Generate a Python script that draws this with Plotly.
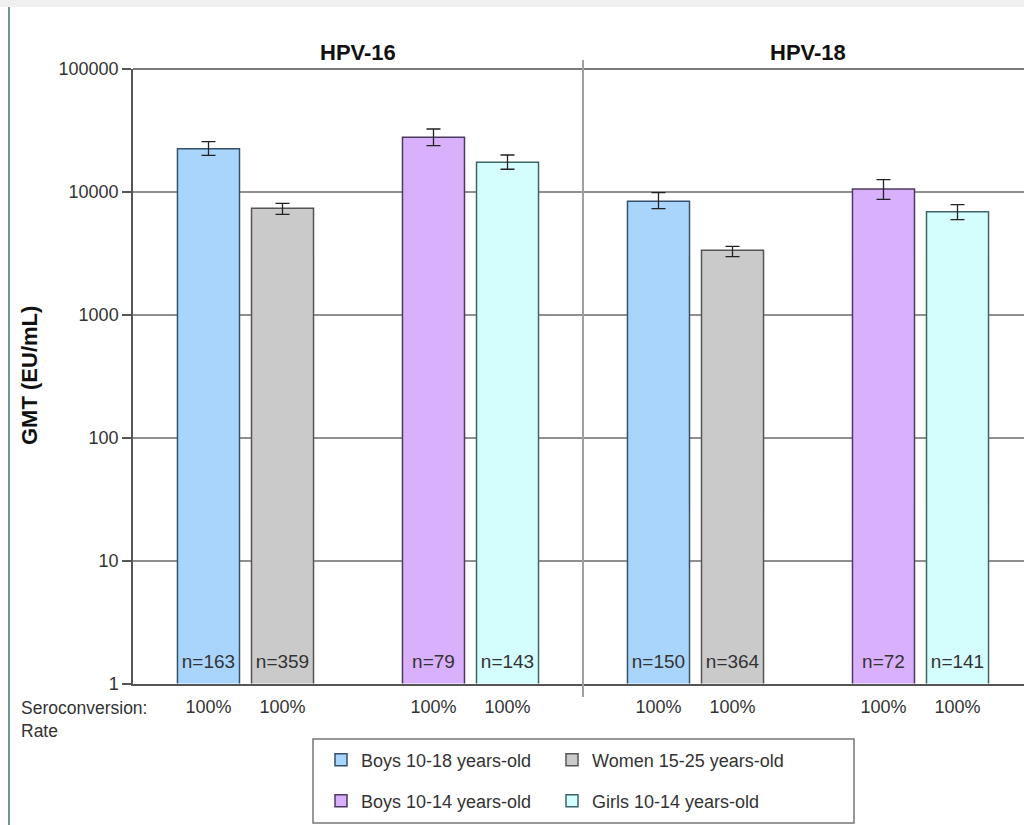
import numpy as np
import plotly.graph_objects as go

# ---------------- data ----------------
categories = ["HPV-16 (study A)", "HPV-16 (study B)", "HPV-18 (study A)", "HPV-18 (study B)"]
panel_titles = ["HPV-16", "HPV-18"]

# Boys 10-18 and Women 15-25 belong to study A; Boys 10-14 and Girls 10-14 to study B
boys1018_gmt = [22470, 8385]
boys1018_low = [19860, 7300]
boys1018_high = [25620, 9850]
boys1018_n = [163, 150]
boys1018_sero = [100, 100]

women_gmt = [7357, 3348]
women_low = [6573, 2970]
women_high = [8077, 3609]
women_n = [359, 364]
women_sero = [100, 100]

boys1014_gmt = [27820, 10560]
boys1014_low = [23760, 8706]
boys1014_high = [32500, 12570]
boys1014_n = [79, 72]
boys1014_sero = [100, 100]

girls_gmt = [17410, 6901]
girls_low = [15280, 5940]
girls_high = [19960, 7867]
girls_n = [143, 141]
girls_sero = [100, 100]

y_tickvals = [1, 10, 100, 1000, 10000, 100000]
y_ticktext = ["1", "10", "100", "1000", "10000", "100000"]

# ---------------- style / layout constants ----------------
FONT = "Liberation Sans, Arial, sans-serif"
TXT = "#333333"
N_LABEL_Y = 1.47      # height (data units) of the n= labels inside the bars
RATE_LABEL_Y = 0.34   # position in the label strip below the axis

W, H = 1024, 825
ML, MR, MT, MB = 133, 0, 69, 105
pw, ph = W - ML - MR, H - MT - MB
AXIS_BOTTOM_PX = 683.5
main_bottom = (H - MB - AXIS_BOTTOM_PX) / ph
strip_top = 0.05


def px_x(p):
    return (p - ML) / pw


def px_y(p):
    return (H - MB - p) / ph


series = [
    dict(name="Boys 10-18 years-old", x=[categories[0], categories[2]], gmt=boys1018_gmt,
         low=boys1018_low, high=boys1018_high, n=boys1018_n, sero=boys1018_sero,
         fill="#a9d5fd", line="#34506a", og="L", legend="legend"),
    dict(name="Women 15-25 years-old", x=[categories[0], categories[2]], gmt=women_gmt,
         low=women_low, high=women_high, n=women_n, sero=women_sero,
         fill="#cacaca", line="#555555", og="R", legend="legend"),
    dict(name="Boys 10-14 years-old", x=[categories[1], categories[3]], gmt=boys1014_gmt,
         low=boys1014_low, high=boys1014_high, n=boys1014_n, sero=boys1014_sero,
         fill="#d8b0fc", line="#4d3a60", og="L", legend="legend2"),
    dict(name="Girls 10-14 years-old", x=[categories[1], categories[3]], gmt=girls_gmt,
         low=girls_low, high=girls_high, n=girls_n, sero=girls_sero,
         fill="#d4fdfd", line="#3f6464", og="R", legend="legend2"),
]

fig = go.Figure()

for s in series:
    g = np.array(s["gmt"], dtype=float)
    lo = np.array(s["low"], dtype=float)
    hi = np.array(s["high"], dtype=float)
    fig.add_trace(go.Bar(
        x=s["x"], y=g, name=s["name"], offsetgroup=s["og"], legend=s["legend"],
        marker=dict(color=s["fill"], line=dict(color=s["line"], width=1.5)),
        error_y=dict(type="data", symmetric=False, array=hi - g, arrayminus=g - lo,
                     color="#222222", thickness=1.3, width=7),
        hoverinfo="x+y",
    ))

# n= labels inside the bars (main axes)
for s in series:
    fig.add_trace(go.Scatter(
        x=s["x"], y=[N_LABEL_Y] * len(s["x"]), text=[f"n={v}" for v in s["n"]],
        mode="text", offsetgroup=s["og"],
        textfont=dict(family=FONT, size=19, color=TXT),
        textposition="middle center", showlegend=False, hoverinfo="skip",
    ))

# seroconversion rate row (strip axes below the main plot)
for s in series:
    fig.add_trace(go.Scatter(
        x=s["x"], y=[RATE_LABEL_Y] * len(s["x"]), text=[f"{v}%" for v in s["sero"]],
        mode="text", offsetgroup=s["og"], xaxis="x2", yaxis="y2",
        textfont=dict(family=FONT, size=18, color=TXT),
        textposition="middle center", showlegend=False, hoverinfo="skip", cliponaxis=False,
    ))

shapes = [
    # top grey band
    dict(type="rect", xref="paper", yref="paper", x0=px_x(0), x1=px_x(W), y0=px_y(7), y1=px_y(0),
         fillcolor="#f0f0f0", line=dict(width=0), layer="below"),
    # left frame line
    dict(type="line", xref="paper", yref="paper", x0=px_x(9), x1=px_x(9), y0=px_y(7), y1=px_y(H),
         line=dict(color="#3f7373", width=1.5)),
    # top gridline (100000)
    dict(type="line", xref="paper", yref="paper", x0=0, x1=1, y0=1, y1=1,
         line=dict(color="#7a7a7a", width=2)),
    # divider between HPV-16 and HPV-18
    dict(type="line", xref="x", yref="paper", x0=1.5, x1=1.5, y0=px_y(697), y1=px_y(60),
         line=dict(color="#a0a0a0", width=2)),
    # legend box
    dict(type="rect", xref="paper", yref="paper", x0=px_x(313), x1=px_x(854), y0=px_y(823), y1=px_y(739),
         line=dict(color="#777777", width=1.5), fillcolor="rgba(0,0,0,0)"),
]

annotations = [
    dict(text=f"<b>{panel_titles[0]}</b>", xref="x", yref="paper", x=0.5, y=px_y(53),
         showarrow=False, font=dict(family=FONT, size=22, color="#111"), xanchor="center", yanchor="middle"),
    dict(text=f"<b>{panel_titles[1]}</b>", xref="x", yref="paper", x=2.5, y=px_y(53),
         showarrow=False, font=dict(family=FONT, size=22, color="#111"), xanchor="center", yanchor="middle"),
    dict(text="<b>GMT (EU/mL)</b>", xref="paper", yref="paper", x=px_x(29), y=px_y(376),
         textangle=-90, showarrow=False, font=dict(family=FONT, size=22, color="#111"),
         xanchor="center", yanchor="middle"),
    dict(text="Seroconversion:<br>Rate", xref="paper", yref="paper", x=px_x(19), y=px_y(696),
         showarrow=False, align="left", xanchor="left", yanchor="top",
         font=dict(family=FONT, size=17.5, color=TXT)),
]

legend_common = dict(orientation="h", xanchor="left", yanchor="middle", x=px_x(321),
                     entrywidth=186, entrywidthmode="pixels", bgcolor="rgba(0,0,0,0)",
                     borderwidth=0, font=dict(family=FONT, size=18, color=TXT))

fig.update_layout(
    width=W, height=H,
    margin=dict(l=ML, r=MR, t=MT, b=MB, autoexpand=False),
    paper_bgcolor="white", plot_bgcolor="white",
    font=dict(family=FONT, size=17, color=TXT),
    barmode="group", bargap=0.342, bargroupgap=0.162,
    scattermode="group", scattergap=0.342,
    xaxis=dict(type="category", categoryorder="array", categoryarray=categories,
               range=[-0.5, -0.5 + pw / 225.0], showticklabels=False, ticks="",
               showgrid=False, showline=True, linecolor="#555555", linewidth=1.5,
               zeroline=False, fixedrange=True, anchor="y"),
    yaxis=dict(type="log", range=[0, 5], domain=[main_bottom, 1], anchor="x",
               tickvals=y_tickvals, ticktext=y_ticktext,
               ticks="outside", ticklen=9, tickwidth=1.5, tickcolor="#555555",
               showline=True, linecolor="#555555", linewidth=1.5,
               showgrid=True, gridcolor="#8f8f8f", gridwidth=1.5, zeroline=False,
               tickfont=dict(family=FONT, size=18, color=TXT), fixedrange=True),
    xaxis2=dict(type="category", categoryorder="array", categoryarray=categories,
                matches="x", anchor="y2", visible=False, fixedrange=True),
    yaxis2=dict(range=[0, 1], domain=[0, strip_top], anchor="x2", visible=False, fixedrange=True),
    legend=dict(y=px_y(760), **legend_common),
    legend2=dict(y=px_y(801), **legend_common),
    shapes=shapes,
    annotations=annotations,
    showlegend=True,
)

fig.write_html("out.html", config={"displayModeBar": False},
               post_script="document.body.style.margin='0';")
